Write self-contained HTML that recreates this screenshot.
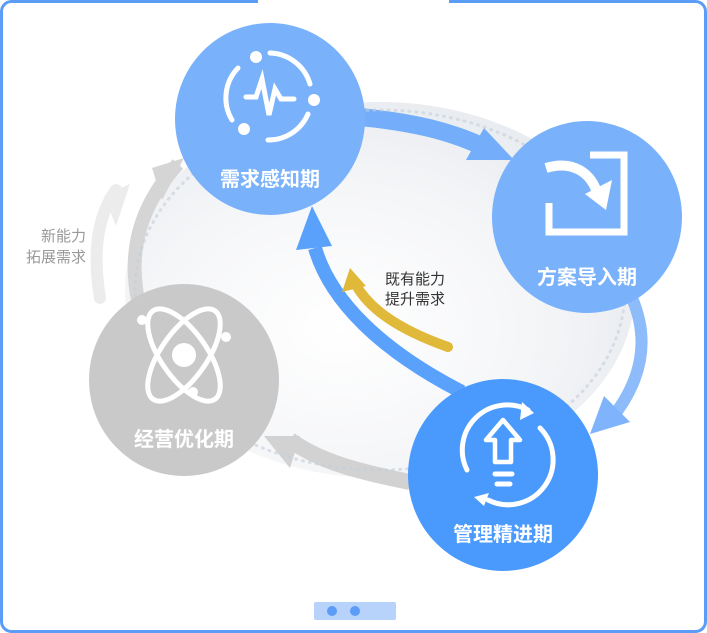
<!DOCTYPE html>
<html><head><meta charset="utf-8"><style>
html,body{margin:0;padding:0;background:#fff;}
svg{display:block;}
text{font-family:"Liberation Sans","Noto Sans CJK SC",sans-serif;}
</style></head><body>
<svg width="707" height="633" viewBox="0 0 707 633" xmlns="http://www.w3.org/2000/svg">
<defs>
<radialGradient id="bg" cx="0.42" cy="0.6" r="0.62">
<stop offset="0" stop-color="#ffffff"/><stop offset="0.6" stop-color="#f5f6f8"/><stop offset="1" stop-color="#e9ecf0"/>
</radialGradient>
</defs>
<rect x="1.5" y="1.5" width="704" height="630" rx="10" fill="#fff" stroke="#5a9cf6" stroke-width="3"/>
<rect x="258" y="0" width="191" height="4" fill="#fff"/>
<ellipse cx="380" cy="290" rx="255" ry="188" fill="url(#bg)"/>
<!-- gray arrows -->
<path d="M100 298 C 92 250, 98 215, 116 190" stroke="#ececec" stroke-width="12" fill="none" stroke-linecap="round"/>
<polygon points="104,196 130,184 116,226" fill="#ececec"/>
<path d="M138 300 C 128 250, 140 205, 178 164" stroke="#d5d5d5" stroke-width="14" fill="none"/>
<polygon points="152,168 184,158 162,200" fill="#d5d5d5"/>
<path d="M410 482 C 360 472, 320 462, 290 440" stroke="#d2d2d2" stroke-width="16" fill="none"/>
<polygon points="264,436 300,436 290,468" fill="#d2d2d2"/>
<!-- blue arrows -->
<path d="M360 117 C 410 122, 450 130, 490 150" stroke="#74aefb" stroke-width="18" fill="none"/>
<polygon points="484,128 514,160 466,160" fill="#74aefb"/>
<path d="M632 298 C 650 340, 642 380, 612 418" stroke="#8ebcfb" stroke-width="12" fill="none"/>
<polygon points="604,396 630,422 590,434" fill="#7fb3fb"/>
<path d="M462 392 C 380 350, 330 300, 315 248" stroke="#5aa1fb" stroke-width="14" fill="none"/>
<polygon points="296,250 312,206 332,246" fill="#5aa1fb"/>
<path d="M448 347 C 400 330, 370 310, 356 285" stroke="#e0b93b" stroke-width="10" fill="none" stroke-linecap="round"/>
<polygon points="342,292 350,268 366,286" fill="#e0b93b"/>
<ellipse cx="380" cy="290" rx="245" ry="180" fill="none" stroke="#c4cfdb" stroke-width="3" stroke-dasharray="1 6" stroke-linecap="round" opacity="0.6"/>
<!-- circles -->
<ellipse cx="270" cy="119" rx="95" ry="96" fill="#79b2fb"/>
<ellipse cx="587" cy="217" rx="95" ry="96" fill="#79b2fb"/>
<ellipse cx="184" cy="380" rx="95" ry="96" fill="#c9c9c9"/>
<ellipse cx="503" cy="475" rx="95" ry="96" fill="#4a9afd"/>
<!-- icon 1 -->
<g stroke="#fff" stroke-width="5" fill="none" stroke-linecap="round">
<path d="M270 53 A43 43 0 0 1 310 84"/>
<path d="M308 114 A43 43 0 0 1 268 140"/>
<path d="M232 120 A43 43 0 0 1 238 68"/>
<polyline points="246,97 256,97 262,79 269,115 275,89 281,99 294,99" stroke-width="5"/>
</g>
<g fill="#fff"><circle cx="256" cy="57" r="6"/><circle cx="314" cy="100" r="6"/><circle cx="244" cy="129" r="6"/></g>
<!-- icon 2 -->
<g fill="none" stroke="#fff" stroke-width="7">
<polyline points="590,155 624,155 624,232 549,232 549,203"/>
<path d="M546 168 C 572 160, 592 172, 598 196" stroke-width="10"/>
</g>
<polygon points="585,194 612,180 606,210" fill="#fff"/>
<!-- icon 3 atom -->
<g fill="none" stroke="#fff" stroke-width="5">
<ellipse cx="184" cy="355" rx="23" ry="54" transform="rotate(-35 184 355)"/>
<ellipse cx="184" cy="355" rx="23" ry="54" transform="rotate(35 184 355)"/>
</g>
<g fill="#fff"><circle cx="184" cy="355" r="12"/><circle cx="142" cy="320" r="5"/><circle cx="226" cy="337" r="5"/><circle cx="193" cy="392" r="5"/></g>
<!-- icon 4 -->
<g fill="none" stroke="#fff" stroke-width="5" stroke-linecap="round">
<path d="M467 470 A45 45 0 0 1 528 410"/>
<path d="M540 428 A45 45 0 0 1 488 500"/>
<path d="M503 420 L520 440 L511 440 L511 462 L495 462 L495 440 L486 440 Z" stroke-width="4.5" stroke-linejoin="round"/>
<line x1="495" y1="474" x2="512" y2="474"/><line x1="497" y1="484" x2="510" y2="484"/>
</g>
<polygon points="522,402 534,413 520,420" fill="#fff"/>
<polygon points="484,506 474,497 489,493" fill="#fff"/>
<!-- labels -->
<g fill="#fff" font-size="20" font-weight="bold" text-anchor="middle">
<text x="270" y="186">需求感知期</text>
<text x="587" y="284">方案导入期</text>
<text x="184" y="446">经营优化期</text>
<text x="503" y="541">管理精进期</text>
</g>
<g font-size="15" text-anchor="end" fill="#999"><text x="86" y="241">新能力</text><text x="86" y="262">拓展需求</text></g>
<g font-size="15" fill="#333"><text x="385" y="284">既有能力</text><text x="385" y="304">提升需求</text></g>
<rect x="314" y="602" width="82" height="18" rx="2" fill="#b8d3fb"/>
<circle cx="332" cy="611" r="5" fill="#5a9cf6"/><circle cx="355" cy="611" r="5" fill="#5a9cf6"/>
</svg>
</body></html>
